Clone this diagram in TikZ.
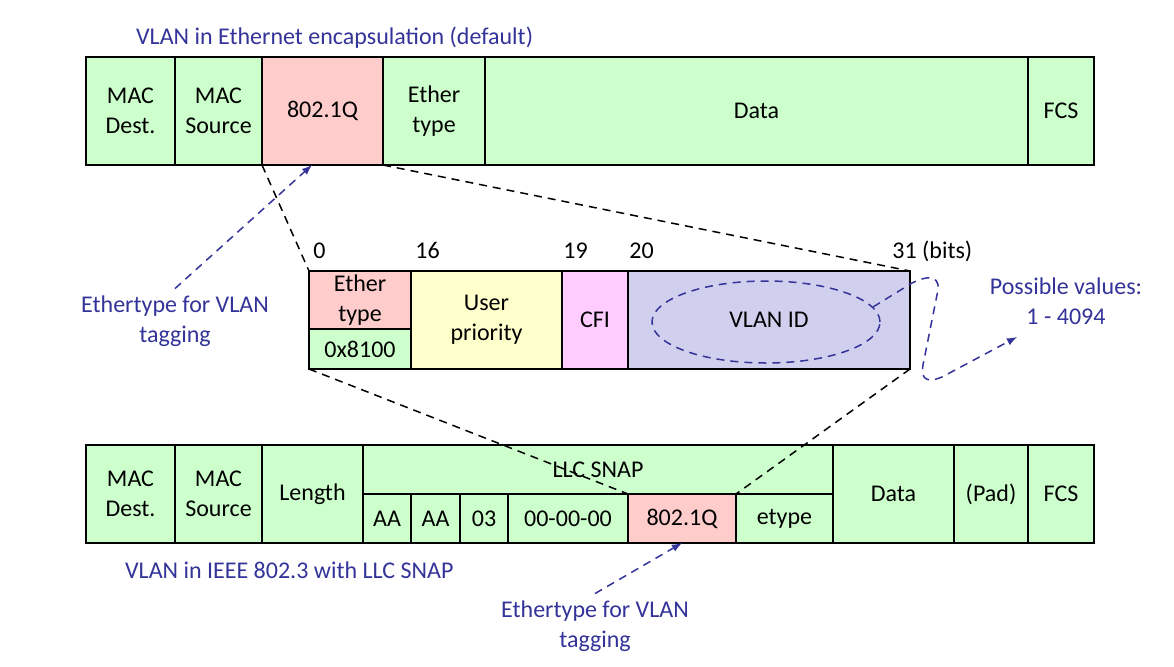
\documentclass[tikz,border=0pt]{standalone}
\usepackage{fontspec}
\setmainfont{Carlito}
\usetikzlibrary{arrows,shapes.geometric}
\definecolor{framegreen}{RGB}{204, 255, 204}
\definecolor{tagpink}{RGB}{255, 204, 204}
\definecolor{prioyellow}{RGB}{255, 255, 204}
\definecolor{cfiviolet}{RGB}{255, 204, 255}
\definecolor{vidlavender}{RGB}{208, 208, 238}
\definecolor{noteblue}{RGB}{51, 51, 153}
\tikzset{
    cell/.style={draw=black, line width=1pt, anchor=north west, inner sep=0pt, outer sep=0pt, align=center, font=\fontsize{12}{15}\selectfont},
    note/.style={text=noteblue, align=center, font=\fontsize{12}{15}\selectfont},
    bitnum/.style={anchor=base west, inner sep=0pt, font=\fontsize{12}{15}\selectfont},
    zoomline/.style={black, line width=0.75pt, dash pattern=on 4pt off 3pt},
    callout/.style={noteblue, line width=0.75pt, dash pattern=on 4pt off 3pt}
}

\begin{document}
\begin{tikzpicture}[x=0.5pt, y=-0.5pt]
            \useasboundingbox (0,0) rectangle (1174,666);
            \node[note, anchor=west] (ttitle) at (129,38) {VLAN in Ethernet encapsulation (default)};
            \node[cell, fill=framegreen,  minimum width=44.5pt,  minimum height=54pt] (tmacdst) at (86,57)             {MAC\\Dest.};
            \node[cell, fill=framegreen,  minimum width=43.5pt,  minimum height=54pt] (tmacsrc) at (tmacdst.north east) {MAC\\Source};
            \node[cell, fill=tagpink,     minimum width=60.5pt,  minimum height=54pt] (ttag)    at (tmacsrc.north east) {802.1Q};
            \node[cell, fill=framegreen,  minimum width=51pt,    minimum height=54pt] (tetype)  at (ttag.north east)    {Ether\\type};
            \node[cell, fill=framegreen,  minimum width=271.5pt, minimum height=54pt] (tdata)   at (tetype.north east)  {Data};
            \node[cell, fill=framegreen,  minimum width=33pt,    minimum height=54pt] (tfcs)    at (tdata.north east)   {FCS};

            \node[cell, fill=tagpink,     minimum width=51pt,    minimum height=29pt] (metype)  at (309,271)            {Ether\\type};
            \node[cell, fill=framegreen,  minimum width=51pt,    minimum height=20pt] (mvalue)  at (metype.south west)  {0x8100};
            \node[cell, fill=prioyellow,  minimum width=75.5pt,  minimum height=49pt] (mprio)   at (metype.north east)  {User\\priority};
            \node[cell, fill=cfiviolet,   minimum width=33pt,    minimum height=49pt] (mcfi)    at (mprio.north east)   {CFI};
            \node[cell, fill=vidlavender, minimum width=141pt,   minimum height=49pt] (mvid)    at (mcfi.north east)    {VLAN ID};
            \node[bitnum] (bit0)  at (313,258) {0};
            \node[bitnum] (bit16) at (415,258) {16};
            \node[bitnum] (bit19) at (563,258) {19};
            \node[bitnum] (bit20) at (629,258) {20};
            \node[bitnum] (bit31) at (892,258) {31 (bits)};
            \node[draw=noteblue, ellipse, line width=0.75pt, dash pattern=on 4pt off 3pt, inner sep=0pt,
                  minimum width=114pt, minimum height=41pt] (vidring) at (766,322) {};

            \node[cell, fill=framegreen,  minimum width=44.5pt,  minimum height=49pt]   (bmacdst) at (86,445)            {MAC\\Dest.};
            \node[cell, fill=framegreen,  minimum width=43.5pt,  minimum height=49pt]   (bmacsrc) at (bmacdst.north east) {MAC\\Source};
            \node[cell, fill=framegreen,  minimum width=50.5pt,  minimum height=49pt]   (blen)    at (bmacsrc.north east) {Length};
            \node[cell, fill=framegreen,  minimum width=235pt,   minimum height=24.5pt] (bsnap)   at (blen.north east)    {LLC SNAP};
            \node[cell, fill=framegreen,  minimum width=24pt,    minimum height=24.5pt] (baa1)    at (bsnap.south west)   {AA};
            \node[cell, fill=framegreen,  minimum width=24.5pt,  minimum height=24.5pt] (baa2)    at (baa1.north east)    {AA};
            \node[cell, fill=framegreen,  minimum width=24pt,    minimum height=24.5pt] (bctrl)   at (baa2.north east)    {03};
            \node[cell, fill=framegreen,  minimum width=60pt,    minimum height=24.5pt] (boui)    at (bctrl.north east)   {00-00-00};
            \node[cell, fill=tagpink,     minimum width=54pt,    minimum height=24.5pt] (btag)    at (boui.north east)    {802.1Q};
            \node[cell, fill=framegreen,  minimum width=48.5pt,  minimum height=24.5pt] (betype)  at (btag.north east)    {etype};
            \node[cell, fill=framegreen,  minimum width=60.5pt,  minimum height=49pt]   (bdata)   at (bsnap.north east)   {Data};
            \node[cell, fill=framegreen,  minimum width=37pt,    minimum height=49pt]   (bpad)    at (bdata.north east)   {(Pad)};
            \node[cell, fill=framegreen,  minimum width=33pt,    minimum height=49pt]   (bfcs)    at (bpad.north east)    {FCS};
            \node[note, anchor=west] (btitle) at (118,570) {VLAN in IEEE 802.3 with LLC SNAP};

            \draw[zoomline] (ttag.south west)   -- (metype.north west);
            \draw[zoomline] (ttag.south east)   -- (mvid.north east);
            \draw[zoomline] (mvalue.south west) -- (btag.north west);
            \draw[zoomline] (mvid.south east)   -- (btag.north east);

            \node[note] (lnote) at (175,321)  {Ethertype for VLAN\\tagging};
            \node[note] (bnote) at (595,626)  {Ethertype for VLAN\\tagging};
            \node[note] (vnote) at (1066,301) {Possible values:\\1 - 4094};
            \coordinate (vtip) at (1017,337);
            \draw[callout, -latex] (lnote.north) -- (ttag.259);
            \draw[callout, -latex] (bnote.north) -- (btag.south);
            \draw[callout, -latex] (vidring.8) -- (912,283) .. controls (930,274) and (942,276) .. (937,295)
                 -- (923,365) .. controls (920,382) and (930,382) .. (942,377) -- (vtip);
        \end{tikzpicture}
\end{document}
